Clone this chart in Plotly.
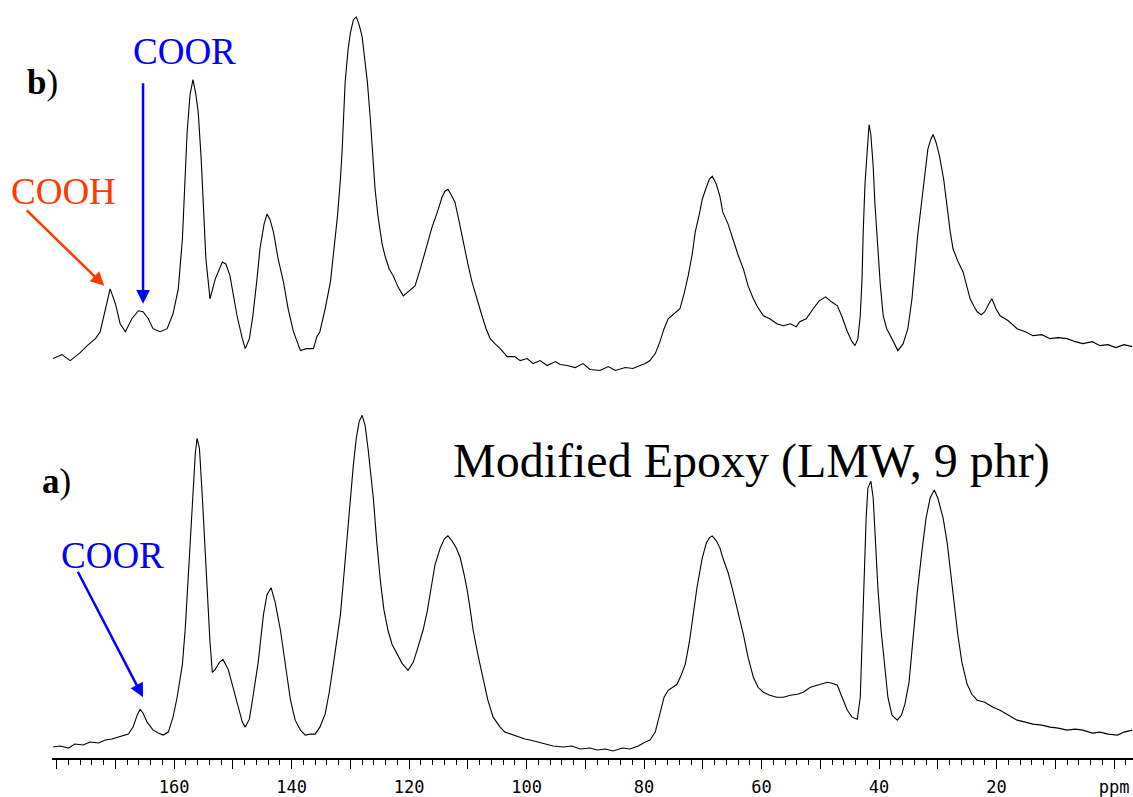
import plotly.graph_objects as go

# ---- Spectrum b) (top) : chemical shift (ppm) and intensity (a.u.) ----
b_ppm = [180.6, 179.1, 177.7, 176.0, 174.8, 173.4, 172.6, 171.7, 170.9, 170.0, 169.2, 168.3, 167.2, 166.1,
         165.3, 164.4, 163.6, 162.4, 161.2, 160.2, 159.3, 158.6, 158.1, 157.8, 157.3, 156.8, 156.3, 155.9,
         155.4, 155.1, 154.6, 153.9, 153.0, 151.8, 151.2, 150.5, 149.3, 148.4, 147.9, 147.2, 146.6, 145.9,
         145.4, 144.7, 144.2, 143.7, 143.1, 142.3, 141.4, 140.6, 139.7, 138.5, 137.5, 136.3, 135.7, 135.2,
         134.3, 133.4, 132.8, 132.2, 131.7, 131.4, 130.9, 130.4, 130.0, 129.5, 129.0, 128.5, 128.0, 127.5,
         127.1, 126.6, 126.3, 125.8, 125.3, 124.6, 124.1, 123.4, 122.7, 121.9, 121.0, 120.2, 119.5, 119.0,
         118.1, 117.4, 116.9, 116.1, 115.2, 114.4, 113.9, 113.4, 112.9, 112.2, 111.5, 110.8, 110.0, 109.3,
         108.4, 107.6, 106.9, 106.2, 105.4, 104.5, 103.3, 102.0, 101.1, 99.9, 98.9, 97.7, 96.5, 95.1, 94.3,
         93.1, 91.7, 90.4, 89.2, 87.5, 86.1, 84.9, 83.2, 81.9, 80.7, 79.8, 79.0, 78.1, 77.3, 76.6, 75.9,
         74.9, 73.9, 73.2, 72.5, 71.8, 71.3, 70.6, 70.1, 69.4, 68.9, 68.4, 67.7, 67.1, 66.6, 65.7, 64.9,
         64.0, 63.1, 62.3, 61.4, 60.8, 59.7, 58.6, 57.4, 56.3, 55.1, 54.1, 53.5, 52.4, 51.2, 50.2, 49.1,
         48.1, 47.1, 46.3, 45.4, 44.6, 44.1, 43.6, 43.2, 42.9, 42.7, 42.4, 42.0, 41.7, 41.4, 41.0, 40.7,
         40.2, 39.8, 39.3, 38.7, 37.8, 36.8, 35.9, 35.1, 34.4, 33.9, 33.4, 32.7, 32.2, 31.7, 31.2, 30.8,
         30.3, 29.7, 29.0, 28.4, 27.9, 27.4, 26.6, 25.7, 25.0, 24.5, 23.8, 23.3, 22.6, 22.0, 21.3, 20.8,
         20.1, 19.4, 18.0, 16.5, 15.1, 13.8, 12.3, 10.9, 9.5, 8.0, 6.6, 5.3, 3.7, 2.4, 1.0, -0.3, -1.7, -3.1]
b_int = [20, 24, 18, 26, 33, 40, 47, 70, 90, 75, 55, 47, 60, 68,
         67, 60, 50, 47, 50, 65, 90, 140, 200, 247, 285, 300, 285, 267,
         220, 180, 120, 80, 100, 117, 115, 103, 63, 40, 30, 40, 63, 100,
         130, 155, 165, 160, 147, 120, 97, 70, 47, 28, 30, 30, 42, 47,
         70, 97, 130, 163, 200, 230, 297, 330, 347, 360, 363, 355, 343, 320,
         297, 260, 230, 190, 163, 135, 123, 110, 103, 92, 83, 87, 90, 93,
         110, 125, 137, 152, 167, 182, 188, 190, 185, 177, 158, 137, 115, 97,
         78, 63, 50, 40, 35, 30, 22, 22, 18, 20, 15, 18, 13, 17, 14,
         13, 11, 15, 9, 8, 12, 8, 11, 10, 13, 15, 18, 25, 37, 50, 60,
         65, 70, 85, 103, 125, 147, 165, 180, 192, 200, 203, 195, 183, 167, 155, 140,
         124, 110, 93, 80, 73, 63, 60, 55, 53, 55, 52, 57, 60, 70, 78, 82,
         77, 73, 62, 47, 37, 33, 40, 63, 100, 147, 195, 230, 255, 245, 213, 175,
         130, 95, 63, 50, 40, 28, 35, 50, 80, 113, 145, 180, 208, 230, 240, 245,
         237, 223, 200, 170, 148, 130, 118, 107, 92, 80, 72, 67, 64, 67, 75, 80,
         70, 63, 58, 50, 47, 43, 44, 40, 41, 40, 37, 35, 37, 33, 34, 31, 34, 32]

# ---- Spectrum a) (bottom) ----
a_ppm = [180.6, 179.4, 178.0, 176.9, 175.5, 174.3, 172.9, 171.7, 170.6, 169.5, 168.7, 167.8, 167.0, 166.3,
         165.8, 165.3, 164.6, 163.6, 162.7, 161.9, 161.0, 160.2, 159.5, 158.6, 158.1, 157.8, 157.3, 156.9,
         156.4, 156.1, 155.7, 155.2, 154.7, 154.4, 153.9, 153.5, 153.0, 152.3, 151.7, 150.8, 150.0, 149.1,
         148.4, 147.9, 147.2, 146.6, 145.7, 144.8, 144.2, 143.5, 142.8, 141.9, 141.1, 140.2, 139.4, 138.5,
         137.7, 136.8, 136.0, 135.2, 134.3, 133.6, 132.9, 132.2, 131.7, 131.0, 130.5, 130.0, 129.5, 129.0,
         128.5, 128.0, 127.5, 127.0, 126.5, 126.1, 125.5, 124.9, 124.3, 123.6, 122.9, 122.0, 121.2, 120.2,
         119.3, 118.5, 117.6, 116.9, 116.3, 115.6, 114.7, 114.0, 113.4, 112.7, 112.0, 111.3, 110.6, 110.1,
         109.6, 109.1, 108.2, 107.4, 106.6, 105.7, 104.5, 103.7, 102.8, 101.5, 100.3, 99.4, 98.0, 96.8,
         95.5, 93.8, 92.3, 90.9, 89.2, 88.0, 86.6, 85.3, 83.7, 82.4, 81.0, 79.8, 79.0, 78.1, 77.3, 76.6,
         75.9, 75.1, 74.4, 73.7, 73.0, 72.3, 71.6, 71.0, 70.1, 69.4, 68.9, 68.4, 67.7, 67.1, 66.6, 65.7,
         64.9, 64.0, 63.1, 62.3, 61.4, 60.6, 59.7, 58.6, 57.4, 56.3, 55.1, 53.9, 52.9, 51.7, 50.5, 49.5,
         48.8, 48.0, 47.1, 46.3, 45.4, 44.6, 43.7, 43.2, 42.9, 42.6, 42.2, 41.9, 41.4, 41.0, 40.7, 40.2,
         39.7, 39.1, 38.5, 37.8, 36.9, 36.2, 35.6, 34.9, 34.2, 33.5, 32.7, 32.0, 31.3, 30.6, 30.0, 29.1,
         28.4, 27.9, 27.2, 26.6, 25.9, 25.0, 24.2, 23.3, 22.0, 20.6, 19.4, 18.0, 16.5, 15.1, 13.8, 12.3,
         10.9, 9.5, 8.0, 6.6, 5.3, 3.7, 2.4, 1.0, -0.6, -1.7, -3.1]
a_int = [10, 11, 9, 13, 12, 15, 14, 17, 18, 20, 22, 23, 30, 42,
         48, 44, 35, 27, 24, 22, 25, 40, 60, 93, 130, 160, 220, 260,
         305, 320, 310, 260, 200, 160, 115, 85, 88, 95, 98, 88, 70, 48,
         35, 30, 38, 60, 95, 143, 163, 170, 155, 127, 95, 57, 37, 27,
         22, 23, 23, 30, 43, 65, 93, 120, 143, 190, 227, 260, 293, 320,
         337, 343, 333, 310, 282, 260, 215, 177, 148, 127, 113, 103, 94, 87,
         95, 110, 128, 147, 170, 193, 210, 219, 222, 217, 210, 200, 182, 167,
         148, 127, 100, 77, 57, 40, 30, 25, 23, 20, 18, 17, 15, 13,
         11, 10, 11, 8, 9, 7, 8, 6, 9, 8, 11, 15, 17, 25, 43, 60,
         67, 70, 73, 82, 93, 115, 143, 170, 200, 215, 220, 222, 217, 210, 200, 185,
         167, 145, 123, 100, 80, 70, 65, 62, 60, 60, 62, 63, 65, 70, 72, 74,
         75, 74, 72, 60, 47, 40, 38, 60, 120, 180, 240, 270, 277, 260, 223, 170,
         130, 95, 60, 42, 37, 42, 53, 75, 123, 165, 207, 240, 260, 268, 260, 240,
         215, 190, 155, 123, 95, 73, 63, 57, 55, 50, 47, 42, 37, 35, 33, 32,
         30, 29, 27, 28, 27, 24, 25, 23, 22, 25, 27]

# ---- Axis tick labels ----
tick_vals = [180, 170, 160, 150, 140, 130, 120, 110, 100, 90, 80, 70, 60, 50, 40, 30, 20, 10, 0]
tick_text = ["", "", "160", "", "140", "", "120", "", "100", "", "80", "", "60", "", "40", "", "20", "", "ppm"]

fig = go.Figure()
fig.add_trace(go.Scatter(x=a_ppm, y=a_int, mode="lines", yaxis="y",
                         line=dict(color="black", width=1.1), showlegend=False, hoverinfo="skip"))
fig.add_trace(go.Scatter(x=b_ppm, y=b_int, mode="lines", yaxis="y2",
                         line=dict(color="black", width=1.1), showlegend=False, hoverinfo="skip"))

serif = "Liberation Serif, Times New Roman, serif"
blue = "#0000FF"
red = "#FF3A00"

PW = 1081.0   # plot width (px)
PH = 761.0    # plot height (px)


def px(x):
    return (x - 52) / PW


def py(y):
    return (761 - y) / PH


def label(x, y, text, size, color):
    return dict(xref="paper", yref="paper", x=px(x), y=py(y), text=text,
                xanchor="center", yanchor="middle", showarrow=False,
                font=dict(family=serif, size=size, color=color))


annotations = [
    label(42, 83, "<b>b</b>)", 35, "black"),
    label(56, 483, "<b>a</b>)", 35, "black"),
    label(751, 463, "Modified Epoxy (LMW, 9 phr)", 48, "black"),
    label(184, 52, "COOR", 37, blue),
    label(63, 192, "COOH", 37, red),
    label(112, 558, "COOR", 37, blue),
    # arrows
    dict(xref="x", yref="y2", x=165.3, y=75, ax=0, ay=-222, text="", showarrow=True,
         arrowhead=2, arrowsize=1.1, arrowwidth=2.5, arrowcolor=blue, standoff=0),
    dict(xref="x", yref="y2", x=171.9, y=93, ax=-79, ay=-77, text="", showarrow=True,
         arrowhead=2, arrowsize=1.1, arrowwidth=2.5, arrowcolor=red, standoff=0),
    dict(xref="x", yref="y", x=165.3, y=60, ax=-66, ay=-127, text="", showarrow=True,
         arrowhead=2, arrowsize=1.1, arrowwidth=2.5, arrowcolor=blue, standoff=0),
]

fig.update_layout(
    width=1133, height=797,
    margin=dict(l=52, r=0, t=0, b=36, pad=0),
    paper_bgcolor="white", plot_bgcolor="white",
    xaxis=dict(range=[180.8, -3.23], showgrid=False, zeroline=False,
               showline=True, linecolor="black", linewidth=1.5,
               tickmode="array", tickvals=tick_vals, ticktext=tick_text,
               ticks="outside", ticklen=9, tickwidth=1, tickcolor="black",
               ticklabelstandoff=4,
               tickfont=dict(family="DejaVu Sans Mono", size=17, color="black"),
               minor=dict(ticks="outside", tick0=0, dtick=2, ticklen=5, tickwidth=1,
                          tickcolor="black", showgrid=False)),
    yaxis=dict(range=[-1, 760], domain=[0, 1], visible=False, showgrid=False, zeroline=False),
    yaxis2=dict(range=[-381, 380], domain=[0, 1], overlaying="y", visible=False,
                showgrid=False, zeroline=False),
    annotations=annotations,
    showlegend=False,
)

fig.write_html("out.html",
               config={"displayModeBar": False, "staticPlot": True},
               post_script="document.body.style.margin='0px';document.body.style.overflow='hidden';")
